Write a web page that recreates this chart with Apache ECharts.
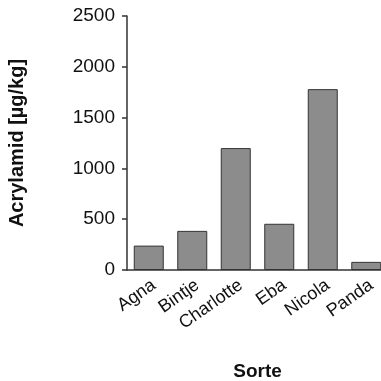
<!DOCTYPE html>
<html>
<head>
<meta charset="utf-8">
<script src="https://cdn.jsdelivr.net/npm/echarts@6/dist/echarts.min.js"></script>
<style>html,body{margin:0;padding:0;background:#fff;}#c{width:381px;height:381px;}</style>
</head>
<body>
<div id="c"></div>
<script>
const categories = ['Agna', 'Bintje', 'Charlotte', 'Eba', 'Nicola', 'Panda'];
const values = [240, 385, 1200, 455, 1780, 80];
const yTicks = [0, 500, 1000, 1500, 2000, 2500];
const xTitle = 'Sorte';
const yTitle = 'Acrylamid [µg/kg]';

const chart = echarts.init(document.getElementById('c'), null, {renderer: 'canvas'});
const font = '"Liberation Sans", Arial, Helvetica, sans-serif';
chart.setOption({
  animation: false,
  backgroundColor: '#fff',
  grid: {left: 127, top: 16, height: 254, width: 261, containLabel: false, outerBoundsMode: 'none'},
  xAxis: {
    type: 'category',
    data: categories,
    name: xTitle,
    nameLocation: 'middle',
    nameGap: 92,
    nameTextStyle: {fontFamily: font, fontWeight: 'bold', fontSize: 19, color: '#111'},
    axisLine: {lineStyle: {color: '#333', width: 1.5}},
    axisTick: {show: false},
    axisLabel: {rotate: 35, fontFamily: font, fontSize: 18, color: '#111', margin: 6, interval: 0, verticalAlign: 'top'}
  },
  yAxis: {
    type: 'value',
    min: yTicks[0],
    max: yTicks[yTicks.length - 1],
    interval: 500,
    name: yTitle,
    nameLocation: 'middle',
    nameGap: 100,
    nameRotate: 90,
    nameTextStyle: {fontFamily: font, fontWeight: 'bold', fontSize: 20, color: '#111'},
    axisLine: {show: true, lineStyle: {color: '#333', width: 1.5}},
    axisTick: {show: true, length: 5, lineStyle: {color: '#333', width: 1.5}},
    axisLabel: {fontFamily: font, fontSize: 19, color: '#111', margin: 12, formatter: function (v) { return String(v); }},
    splitLine: {show: false}
  },
  series: [{
    type: 'bar',
    data: values,
    barWidth: 30,
    itemStyle: {color: '#8c8c8c', borderColor: '#333', borderWidth: 1}
  }]
});
</script>
</body>
</html>
